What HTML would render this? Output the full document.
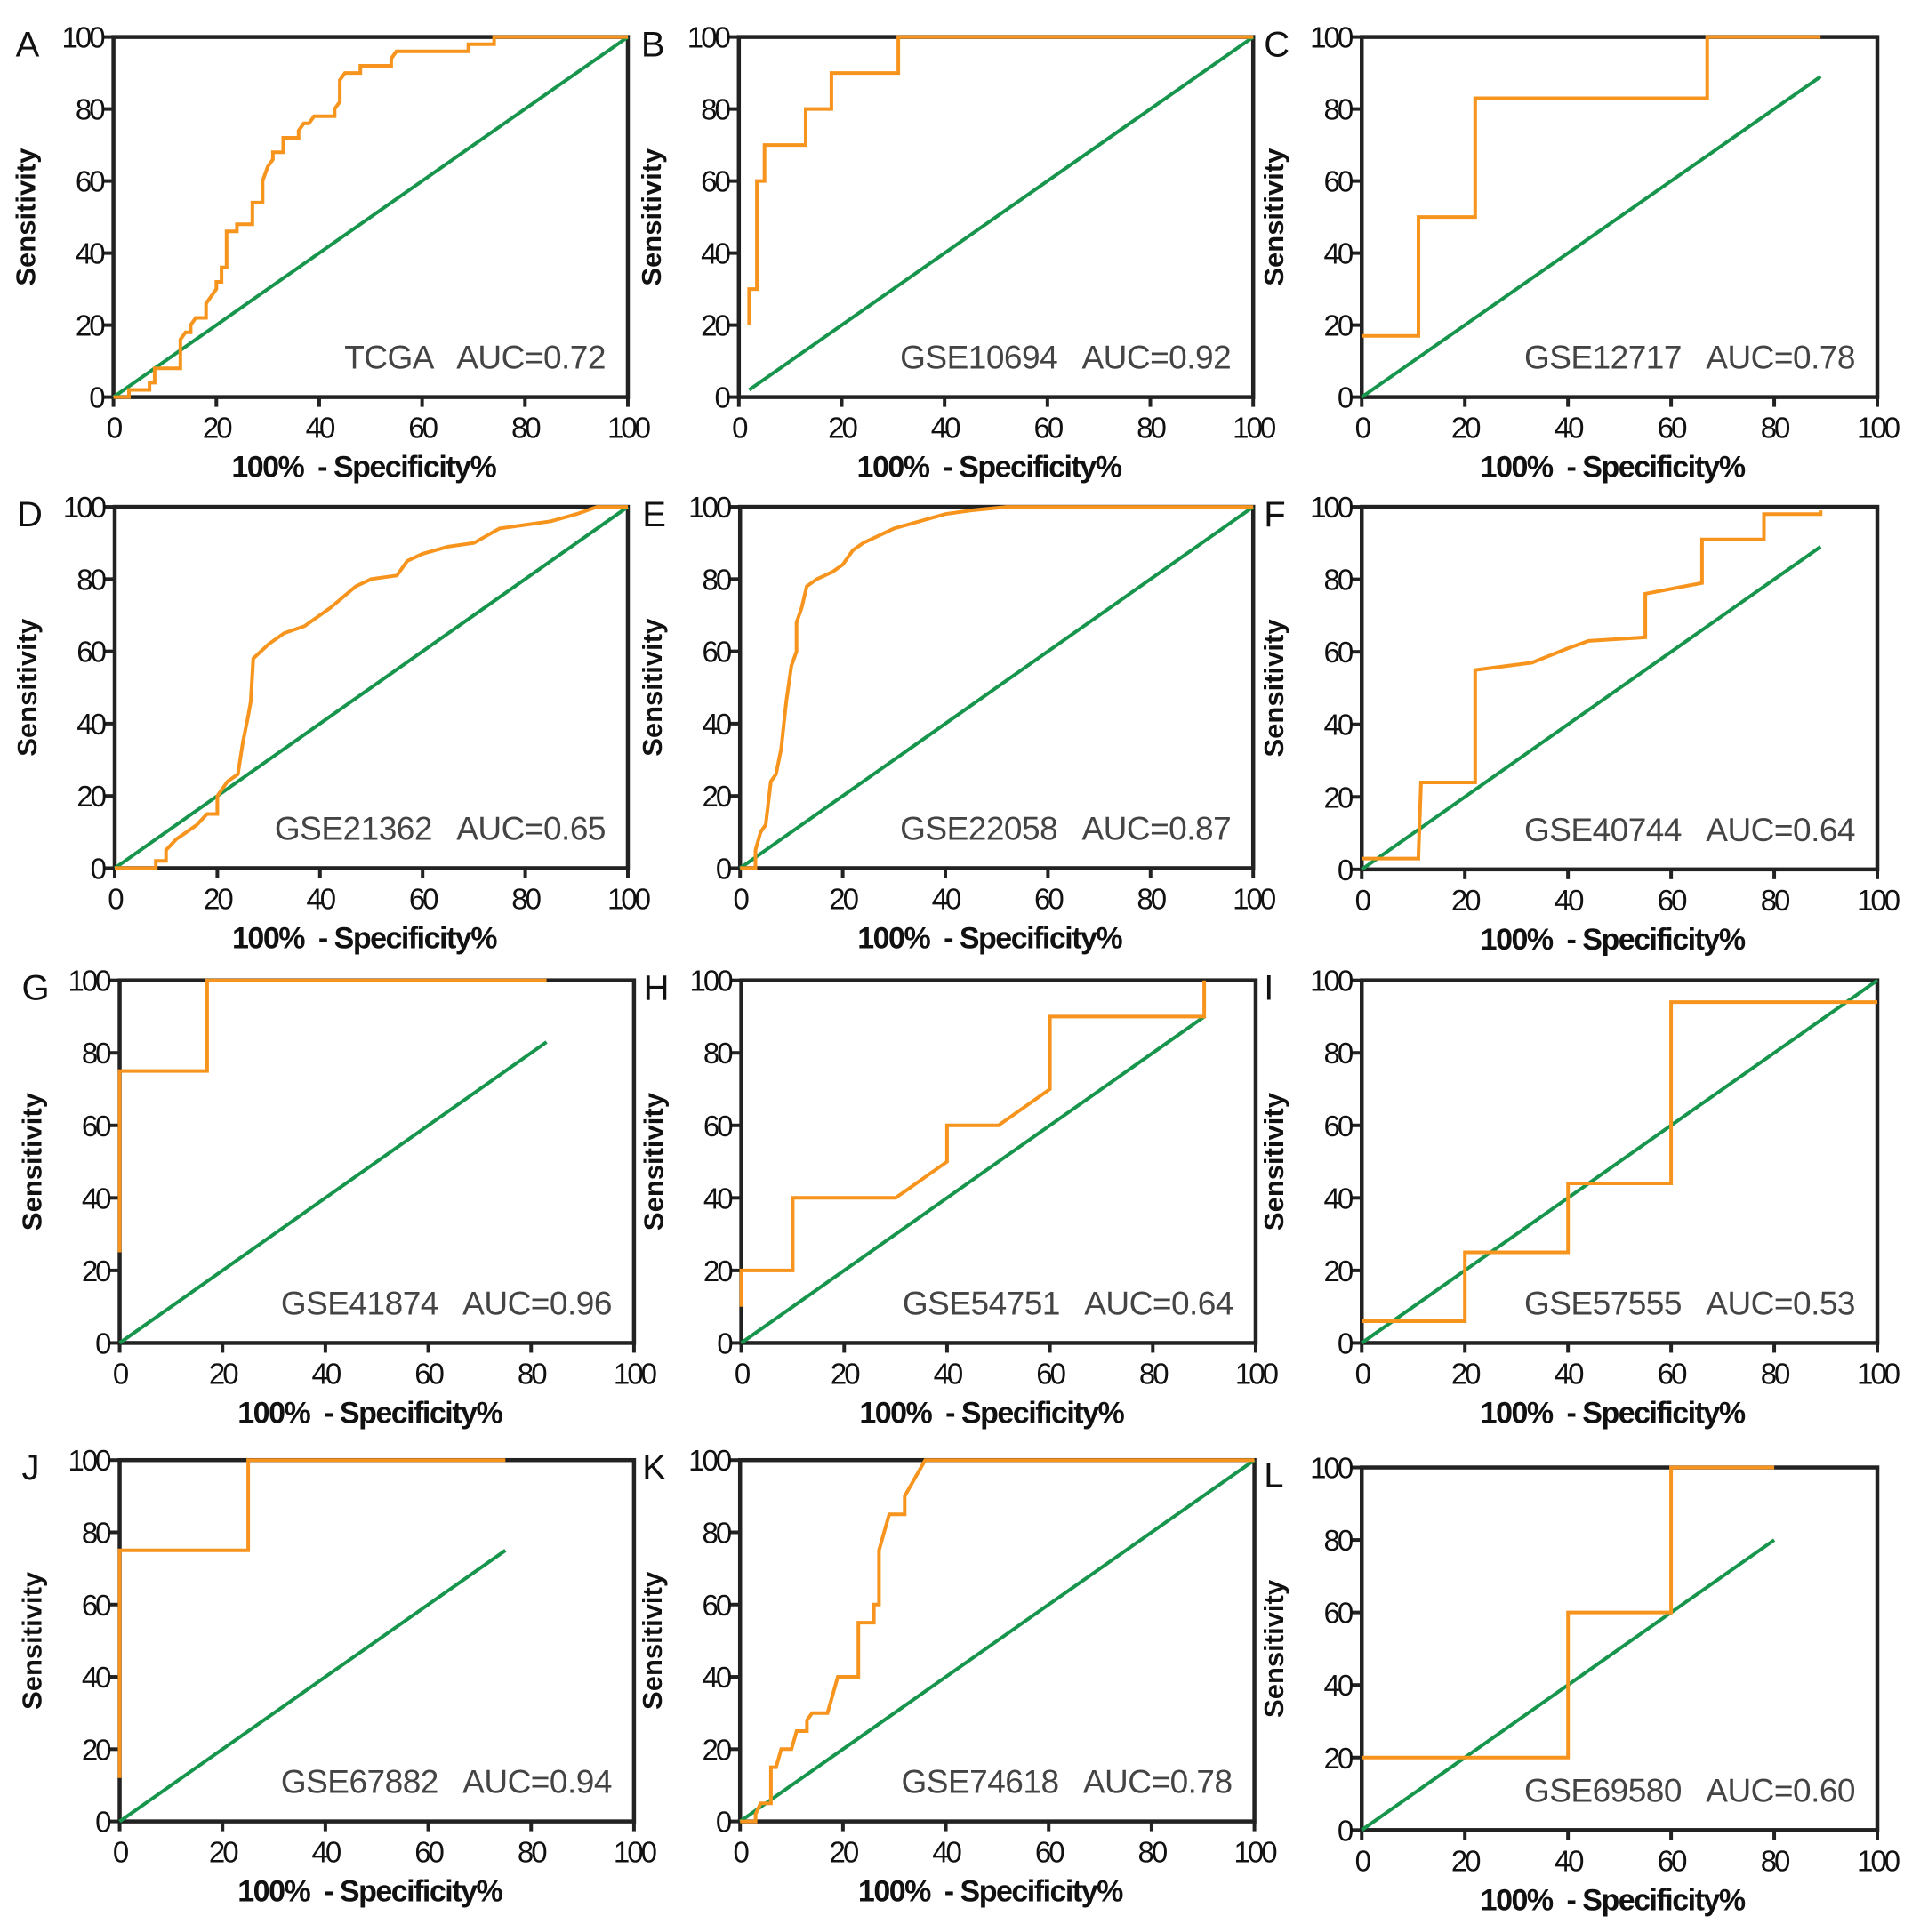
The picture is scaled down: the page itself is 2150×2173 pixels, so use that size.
<!DOCTYPE html>
<html><head><meta charset="utf-8"><style>
html,body{margin:0;padding:0;background:#fff;}
svg{display:block;}
text{white-space:pre;}
</style></head><body>
<svg id="fig" width="2150" height="2173" viewBox="0 0 2150 2173" xmlns="http://www.w3.org/2000/svg"></svg>
<script>
const K = 1.387;
const panelLetters = ["A","B","C","D","E","F","G","H","I","J","K","L"];
const datasetNames = ["TCGA","GSE10694","GSE12717","GSE21362","GSE22058","GSE40744","GSE41874","GSE54751","GSE57555","GSE67882","GSE74618","GSE69580"];
const aucLabels = ["AUC=0.72","AUC=0.92","AUC=0.78","AUC=0.65","AUC=0.87","AUC=0.64","AUC=0.96","AUC=0.64","AUC=0.53","AUC=0.94","AUC=0.78","AUC=0.60"];
const tickValues = [0,20,40,60,80,100];
const rocA = [[0,0],[3,0],[3,2],[7,2],[7,4],[8,4],[8,8],[13,8],[13,16],[14,18],[15,18],[15,20],[16,22],[18,22],[18,26],[19,28],[20,30],[20,32],[21,32],[21,36],[22,36],[22,46],[24,46],[24,48],[27,48],[27,54],[29,54],[29,60],[30,64],[31,66],[31,68],[33,68],[33,72],[36,72],[36,74],[37,76],[38,76],[39,78],[43,78],[43,80],[44,82],[44,88],[45,90],[48,90],[48,92],[54,92],[54,94],[55,96],[69,96],[69,98],[74,98],[74,100],[100,100]];
const rocB = [[2,20],[2,30],[3.5,30],[3.5,60],[5,60],[5,70],[13,70],[13,80],[18,80],[18,90],[31,90],[31,100],[100,100]];
const rocC = [[0,17],[11,17],[11,50],[22,50],[22,83],[67,83],[67,100],[89,100]];
const rocD = [[0,0],[8,0],[8,2],[10,2],[10,5],[12,8],[14,10],[16,12],[18,15],[20,15],[20,20],[22,24],[24,26],[25,35],[26,42],[26.5,46],[27,58],[30,62],[33,65],[37,67],[42,72],[47,78],[50,80],[55,81],[57,85],[60,87],[65,89],[70,90],[75,94],[80,95],[85,96],[90,98],[94,100],[100,100]];
const rocE = [[0,0],[3,0],[3,5],[4,10],[5,12],[6,24],[7,26],[8,33],[9,46],[10,56],[11,60],[11,68],[12,72],[13,78],[15,80],[18,82],[20,84],[22,88],[24,90],[27,92],[30,94],[35,96],[40,98],[45,99],[52,100],[100,100]];
const rocF = [[0,3],[11,3],[11,4],[11.5,24],[22,24],[22,55],[33,57],[40,61],[44,63],[55,64],[55,76],[66,79],[66,91],[78,91],[78,98],[89,98],[89,99]];
const rocG = [[0,25],[0,75],[17,75],[17,100],[83,100]];
const rocH = [[0,10],[0,20],[10,20],[10,40],[30,40],[40,50],[40,60],[50,60],[60,70],[60,90],[90,90],[90,100]];
const rocI = [[0,6],[20,6],[20,25],[40,25],[40,44],[60,44],[60,94],[100,94]];
const rocJ = [[0,12],[0,75],[25,75],[25,100],[75,100]];
const rocK = [[0,0],[3,0],[3,2],[4,5],[6,5],[6,15],[7,15],[8,20],[10,20],[11,25],[13,25],[13,28],[14,30],[17,30],[18,35],[19,40],[23,40],[23,55],[26,55],[26,60],[27,60],[27,75],[28,80],[29,85],[32,85],[32,90],[34,95],[36,100],[100,100]];
const rocL = [[0,20],[40,20],[40,60],[60,60],[60,100],[80,100]];
const rocSeries = [rocA,rocB,rocC,rocD,rocE,rocF,rocG,rocH,rocI,rocJ,rocK,rocL];
const refStart = [0,2,0,0,0,0,0,0,0,0,0,0];
const refEnd = [100,100,89,100,100,89,83,90,100,75,100,80];

const frames = [
 [92,509,322,30],[599,1016,322,30],[1104,1522,322,30],
 [93,509,704,411],[600,1016,704,411],[1104,1522,705,411],
 [97,514,1089,795],[601,1018,1089,795],[1104,1522,1089,795],
 [97,514,1477,1184],[600,1017,1477,1184],[1104,1522,1484,1190]
];
const NS="http://www.w3.org/2000/svg";
const svg=document.getElementById('fig');
function mk(tag,attrs,parent){const e=document.createElementNS(NS,tag);for(const k in attrs)e.setAttribute(k,attrs[k]);parent.appendChild(e);return e;}
const FONT='"Liberation Sans", Arial, sans-serif';
frames.forEach((f,i)=>{
  const x0=f[0]*K,x1=f[1]*K,y0=f[2]*K,y1=f[3]*K;
  const sx=v=>x0+(x1-x0)*v/100, sy=v=>y0+(y1-y0)*v/100;
  const g=mk('g',{},svg);
  
  
  const lt=mk('text',{x:x0-110,y:y1+22,'font-family':FONT,'font-size':40,fill:'#111'},g);
  
  
  lt.textContent=panelLetters[i];
  const fr=mk('rect',{x:x0,y:y1,width:x1-x0,height:y0-y1,fill:'none',stroke:'#222','stroke-width':4.5},g);
  
  
  tickValues.forEach(t=>{
    const tx=mk('line',{x1:sx(t),x2:sx(t),y1:y0,y2:y0+11,stroke:'#222','stroke-width':4},g);
    
    
    const tl=mk('text',{x:sx(t),y:y0+46,'text-anchor':'middle','font-family':FONT,'font-size':33,'letter-spacing':-3,fill:'#111'},g);
    
    
    tl.textContent=t;
    const ty=mk('line',{x1:x0-11,x2:x0,y1:sy(t),y2:sy(t),stroke:'#222','stroke-width':4},g);
    
    
    const yl=mk('text',{x:x0-12,y:sy(t)+12,'text-anchor':'end','font-family':FONT,'font-size':33,'letter-spacing':-3,fill:'#111'},g);
    
    
    yl.textContent=t;
  });
  const xt=mk('text',{x:(x0+x1)/2-8,y:y0+90,'text-anchor':'middle','font-family':FONT,'font-size':34,'font-weight':'bold','letter-spacing':-1.5,fill:'#111'},g);
  
  
  xt.textContent='100%  - Specificity%';
  const cy=(y0+y1)/2, cx=x0-88;
  const yt=mk('text',{x:cx,y:cy,'text-anchor':'middle','font-family':FONT,'font-size':31,'font-weight':'bold',fill:'#111',transform:`rotate(-90 ${cx} ${cy})`},g);
  
  
  yt.textContent='Sensitivity';
  const ref=mk('line',{x1:sx(refStart[i]),y1:sy(refStart[i]),x2:sx(refEnd[i]),y2:sy(refEnd[i]),stroke:'#17954c','stroke-width':4},g);
  
  
  const pts=rocSeries[i].map(p=>sx(p[0]).toFixed(1)+','+sy(p[1]).toFixed(1)).join(' ');
  const roc=mk('polyline',{points:pts,fill:'none',stroke:'#f7941d','stroke-width':4,'stroke-linejoin':'miter'},g);
  
  
  const an=mk('text',{x:x1-25,y:y0-32,'text-anchor':'end','font-family':FONT,'font-size':37,'letter-spacing':-0.5,fill:'#444'},g);
  
  
  an.textContent=datasetNames[i]+'   '+aucLabels[i];
});
</script>
</body></html>
